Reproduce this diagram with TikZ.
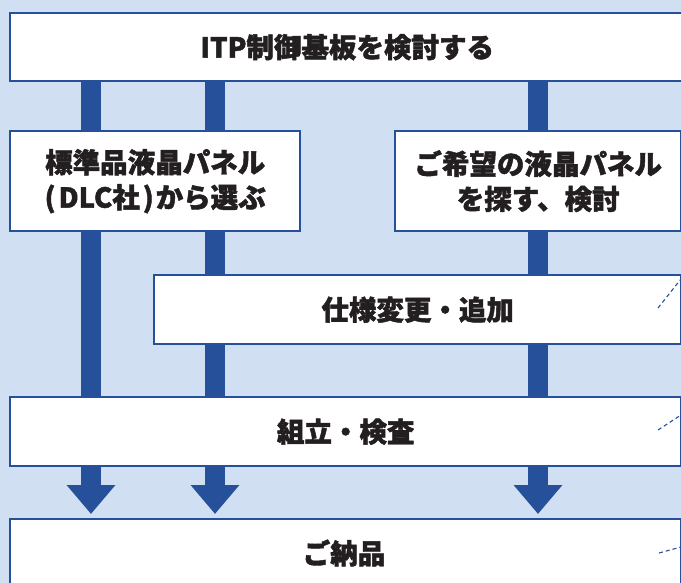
\documentclass[tikz,border=0pt]{standalone}
\usepackage{fontspec}
\setmainfont{Noto Sans CJK JP}[BoldFeatures={FakeBold=1.6}]
\usetikzlibrary{arrows.meta}
\definecolor{bgblue}{RGB}{208,224,242}
\definecolor{dblue}{RGB}{38,80,154}
\definecolor{ink}{RGB}{35,31,32}
\tikzset{
  box/.style={draw=dblue, line width=2.4pt, fill=white, anchor=north west,
    inner sep=0pt, align=center, text=ink, font=\fontsize{27.5}{35}\selectfont\bfseries},
  bar/.style={draw=dblue, line width=20pt},
  downarrow/.style={draw=dblue, line width=20pt,
    -{Triangle[width=47pt,length=29pt,fill=dblue]}, shorten >=4pt},
  callout/.style={draw=dblue, line width=1.1pt, dash pattern=on 4pt off 3pt}
}
\begin{document}
\begin{tikzpicture}[x=1pt,y=-1pt]
\useasboundingbox (0,0) rectangle (681,583);
\clip (0,0) rectangle (681,583);
\fill[bgblue] (0,0) rectangle (681,583);
% bar positions
\coordinate (b1) at (91,0);
\coordinate (b2) at (215,0);
\coordinate (b3) at (538,0);
% invisible frames used as connector ends
\node[box, minimum width=674pt, minimum height=68pt, draw=none, fill=none] (top) at (9,12) {};
\node[box, minimum width=671pt, minimum height=69pt, draw=none, fill=none] (asm) at (9,396) {};
\node[box, minimum width=671pt, minimum height=110pt, draw=none, fill=none] (deliv) at (9,518) {};
\draw[bar] (top.south -| b1) -- (asm.north -| b1);
\draw[bar] (top.south -| b2) -- (asm.north -| b2);
\draw[bar] (top.south -| b3) -- (asm.north -| b3);
\draw[downarrow] (asm.south -| b1) -- (deliv.north -| b1);
\draw[downarrow] (asm.south -| b2) -- (deliv.north -| b2);
\draw[downarrow] (asm.south -| b3) -- (deliv.north -| b3);
% visible boxes
\node[box, minimum width=674pt, minimum height=68pt] (topbox) at (9,12) {ITP制御基板を検討する};
\node[box, minimum width=290pt, minimum height=100pt] (std) at (9,130) {標準品液晶パネル\\(\kern3pt DLC社\kern3pt)\kern2pt から選ぶ};
\node[box, minimum width=286pt, minimum height=100pt] (wish) at (394,130) {ご希望の液晶パネル\\を探す、検討};
\node[box, minimum width=527pt, minimum height=69pt] (spec) at (153,274) {仕様変更・追加};
\node[box, minimum width=671pt, minimum height=69pt] (asmbox) at (9,396) {組立・検査};
\node[box, minimum width=671pt, minimum height=110pt] (delbox) at (9,518) {};
\node[text=ink, font=\fontsize{27.5}{30}\selectfont\bfseries] (deltext) at (344,553) {ご納品};
% dashed callout stubs
\coordinate (c1a) at (658,308); \coordinate (c1b) at (681,279);
\coordinate (c2a) at (658,430); \coordinate (c2b) at (681,415);
\coordinate (c3a) at (659,553); \coordinate (c3b) at (681,547);
\draw[callout] (c1a) -- (c1b);
\draw[callout] (c2a) -- (c2b);
\draw[callout] (c3a) -- (c3b);
\end{tikzpicture}
\end{document}
